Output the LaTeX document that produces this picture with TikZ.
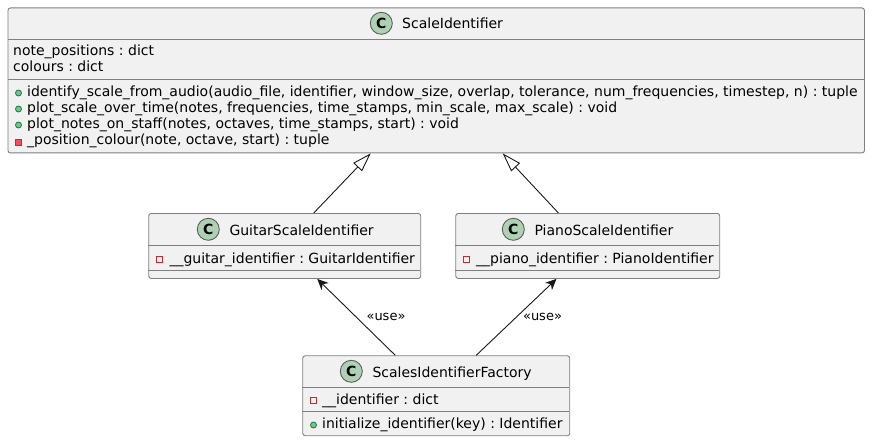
\documentclass[tikz,border=0pt]{standalone}
\usepackage{fontspec}
\setmainfont{DejaVu Sans}
\usetikzlibrary{arrows.meta,calc}
\definecolor{boxfill}{HTML}{F1F1F1}
\definecolor{boxline}{HTML}{7F7F7F}
\definecolor{iconfill}{HTML}{ADD1B2}
\definecolor{inkc}{HTML}{181818}
\definecolor{pubfill}{HTML}{84BE84}
\definecolor{publine}{HTML}{038048}
\definecolor{privfill}{HTML}{F24D5C}
\definecolor{privline}{HTML}{C82930}
\tikzset{
  classbox/.style={draw=boxline,fill=boxfill,line width=0.9pt,rounded corners=2.5pt,inner sep=0pt,anchor=north west},
  divider/.style={draw=boxline,line width=0.9pt},
  member/.style={anchor=base west,inner sep=0pt,font=\fontsize{14}{16}\selectfont\frenchspacing,text=black},
  titletext/.style={member},
  classicon/.style={circle,draw=inkc!70,fill=iconfill,line width=0.9pt,minimum size=22pt,inner sep=0pt,font=\fontsize{14}{14}\selectfont\bfseries,text=black},
  pubdot/.style={circle,draw=publine,fill=pubfill,line width=0.8pt,minimum size=6pt,inner sep=0pt},
  privsq/.style={rectangle,draw=privline,fill=privfill,line width=0.8pt,minimum size=6pt,inner sep=0pt},
  privfield/.style={rectangle,draw=privline,fill=none,line width=0.8pt,minimum size=6pt,inner sep=0pt},
  inherit/.style={draw=inkc,line width=0.9pt,-{Triangle[open,length=19pt,width=12pt,fill=white]}},
  uses/.style={draw=inkc,line width=0.9pt,-{Stealth[length=11pt,width=10pt,inset=3.5pt]}},
  edgelabel/.style={inner sep=0pt,font=\fontsize{13}{15}\selectfont,text=black},
}
\begin{document}
\begin{tikzpicture}[x=1pt,y=-1pt]
\useasboundingbox (0,0) rectangle (870,441);
% boxes
\node[classbox,minimum width=856.5pt,minimum height=145pt] (main) at (7.5,7.5) {};
\node[classbox,minimum width=272pt,minimum height=65pt] (guitar) at (148.3,213) {};
\node[classbox,minimum width=264pt,minimum height=65pt] (piano) at (455.3,213) {};
\node[classbox,minimum width=267pt,minimum height=80pt] (factory) at (302.3,355.3) {};
% dividers
\draw[divider] (7.5,39.5) -- (864,39.5);
\draw[divider] (7.5,79.5) -- (864,79.5);
\draw[divider] (148.3,245.5) -- (420.3,245.5);
\draw[divider] (148.3,270) -- (420.3,270);
\draw[divider] (455.3,245.5) -- (719.3,245.5);
\draw[divider] (455.3,270) -- (719.3,270);
\draw[divider] (302.3,387.5) -- (569.3,387.5);
\draw[divider] (302.3,411.5) -- (569.3,411.5);
% icons
\node[classicon] (iconmain) at (381.3,23.3) {C};
\node[classicon] (iconguitar) at (208.3,229.3) {C};
\node[classicon] (iconpiano) at (513.3,229.3) {C};
\node[classicon] (iconfactory) at (351.3,371.3) {C};
% titles
\node[titletext] (tmain) at (402,28.5) {ScaleIdentifier};
\node[titletext] (tguitar) at (229.3,235) {GuitarScaleIdentifier};
\node[titletext] (tpiano) at (534.3,235) {PianoScaleIdentifier};
\node[titletext] (tfactory) at (372.3,377) {ScalesIdentifierFactory};
% main members
\node[member] (a1) at (13,56) {note\_positions : dict};
\node[member] (a2) at (13,72) {colours : dict};
\node[pubdot] (d1) at (18.5,93) {};
\node[pubdot] (d2) at (18.5,109) {};
\node[pubdot] (d3) at (18.5,125) {};
\node[privsq] (d4) at (18.5,142) {};
\node[member] (m1) at (27,97) {identify\_scale\_from\_audio(audio\_file, identifier, window\_size, overlap, tolerance, num\_frequencies, timestep, n) : tuple};
\node[member] (m2) at (27,113) {plot\_scale\_over\_time(notes, frequencies, time\_stamps, min\_scale, max\_scale) : void};
\node[member] (m3) at (27,129) {plot\_notes\_on\_staff(notes, octaves, time\_stamps, start) : void};
\node[member] (m4) at (27,145) {\_position\_colour(note, octave, start) : tuple};
% guitar members
\node[privfield] (g0) at (159.5,259.5) {};
\node[member] (g1) at (169.3,263) {\_\_guitar\_identifier : GuitarIdentifier};
% piano members
\node[privfield] (p0) at (466.3,259.5) {};
\node[member] (p1) at (476,263) {\_\_piano\_identifier : PianoIdentifier};
% factory members
\node[privfield] (f0) at (313.5,400.3) {};
\node[member] (f1) at (322,404) {\_\_identifier : dict};
\node[pubdot] (f2) at (313.5,425) {};
\node[member] (f3) at (322,428) {initialize\_identifier(key) : Identifier};
% connectors
\draw[inherit] ([xshift=29pt]guitar.north) -- ([xshift=-65.5pt]main.south);
\draw[inherit] ([xshift=-29.3pt]piano.north) -- ([xshift=66.5pt]main.south);
\draw[uses] ([xshift=-41pt]factory.north) -- ([xshift=32.5pt]guitar.south);
\draw[uses] ([xshift=40pt]factory.north) -- ([xshift=-31.3pt]piano.south);
% labels
\node[edgelabel] (l1) at (386,316.5) {«use»};
\node[edgelabel] (l2) at (542.5,316.5) {«use»};
\end{tikzpicture}
\end{document}
